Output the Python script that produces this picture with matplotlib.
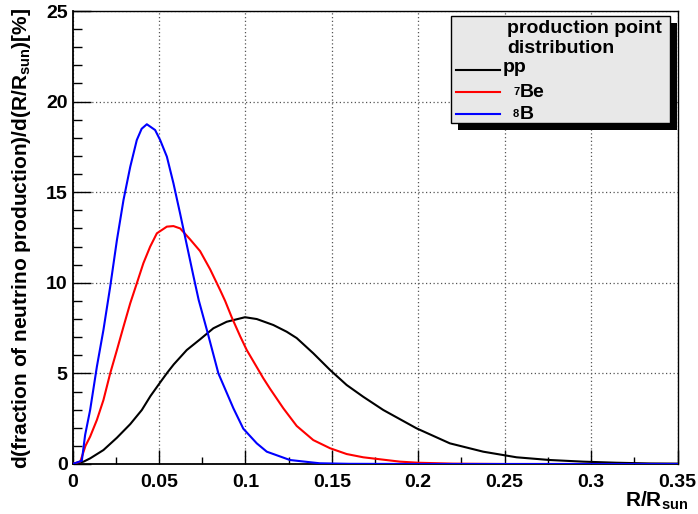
import matplotlib
matplotlib.use('Agg')
import matplotlib.pyplot as plt
from matplotlib.patches import Rectangle
from matplotlib.lines import Line2D
from matplotlib.ticker import MultipleLocator

plt.rcParams['font.family'] = ['Liberation Sans', 'DejaVu Sans']
plt.rcParams['font.weight'] = 'bold'
plt.rcParams['mathtext.fontset'] = 'custom'
plt.rcParams['mathtext.rm'] = 'Liberation Sans:bold'
plt.rcParams['mathtext.it'] = 'Liberation Sans:bold'
plt.rcParams['mathtext.bf'] = 'Liberation Sans:bold'

# ---------------- data ----------------
pp_x = [0, 0.0064, 0.0102, 0.0179, 0.0257, 0.0334, 0.0401, 0.0451, 0.0507, 0.0549,
        0.0586, 0.0661, 0.0738, 0.0815, 0.0892, 0.0998, 0.1066, 0.1162, 0.1239, 0.1297,
        0.1393, 0.149, 0.1586, 0.1682, 0.1798, 0.199, 0.2183, 0.2376, 0.2569, 0.2761,
        0.2954, 0.3147, 0.334, 0.35]
pp_y = [0, 0.13, 0.31, 0.77, 1.45, 2.2, 2.98, 3.75, 4.5, 5.05,
        5.5, 6.29, 6.88, 7.49, 7.85, 8.1, 8.0, 7.67, 7.3, 6.95,
        6.11, 5.19, 4.36, 3.71, 2.98, 1.97, 1.14, 0.68, 0.37, 0.22,
        0.13, 0.07, 0.03, 0.02]

be7_x = [0, 0.0045, 0.0075, 0.0102, 0.0141, 0.0179, 0.0218, 0.0257, 0.0295, 0.0334,
         0.0372, 0.041, 0.0449, 0.0488, 0.0546, 0.0584, 0.0623, 0.068, 0.0738, 0.0796,
         0.0854, 0.0883, 0.0921, 0.097, 0.1008, 0.1104, 0.1143, 0.122, 0.1297, 0.1393,
         0.149, 0.1586, 0.1682, 0.1779, 0.1894, 0.2, 0.22, 0.25, 0.35]
be7_y = [0, 0.13, 1.0, 1.51, 2.43, 3.53, 5.0, 6.29, 7.58, 8.87,
         9.97, 11.08, 11.99, 12.73, 13.1, 13.13, 13.0, 12.4, 11.75, 10.75,
         9.6, 9.0, 8.1, 7.05, 6.29, 4.73, 4.15, 3.07, 2.1, 1.32,
         0.87, 0.55, 0.37, 0.26, 0.13, 0.07, 0.02, 0, 0]

b8_x = [0, 0.0054, 0.0073, 0.0102, 0.0141, 0.0179, 0.0218, 0.0257, 0.0295, 0.0334,
        0.0372, 0.040, 0.043, 0.0478, 0.0507, 0.0546, 0.0584, 0.0623, 0.0661, 0.0699,
        0.073, 0.0781, 0.0844, 0.0931, 0.0988, 0.1066, 0.1124, 0.1258, 0.143,
        0.16, 0.2, 0.35]
b8_y = [0, 0.18, 1.6, 2.98, 5.37, 7.4, 9.78, 12.36, 14.57, 16.4,
        17.88, 18.5, 18.75, 18.43, 17.88, 16.96, 15.49, 13.8, 12.1, 10.4,
        9.05, 7.27, 5.0, 3.07, 1.95, 1.14, 0.68, 0.22, 0.04,
        0.01, 0, 0]

series_labels = ['pp', '7Be', '8B']
legend_title = ['production point', 'distribution']
xticks = [0, 0.05, 0.1, 0.15, 0.2, 0.25, 0.3, 0.35]
xticklabels = ['0', '0.05', '0.1', '0.15', '0.2', '0.25', '0.3', '0.35']
yticks = [0, 5, 10, 15, 20, 25]

# ---------------- figure ----------------
W, H = 698, 514
fig = plt.figure(figsize=(W / 100, H / 100), dpi=100)
L, R, T, B = 72.5, 677.5, 11, 464
ax = fig.add_axes([L / W, 1 - B / H, (R - L) / W, (B - T) / H])

def fx(px):
    return px / W

def fy(py):
    return 1 - py / H

ax.plot(pp_x, pp_y, color='black', lw=1.5, zorder=3)
ax.plot(be7_x, be7_y, color='#ff0000', lw=1.5, zorder=3)
ax.plot(b8_x, b8_y, color='#0000ff', lw=1.5, zorder=4)

ax.set_xlim(0, 0.35)
ax.set_ylim(0, 25)
ax.set_xticks(xticks)
ax.set_xticklabels(xticklabels)
ax.set_yticks(yticks)
ax.xaxis.set_minor_locator(MultipleLocator(0.025))
ax.yaxis.set_minor_locator(MultipleLocator(1))

ax.grid(True, which='major', color='#555555', lw=0.9, linestyle=(0, (1, 2)))
ax.set_axisbelow(True)

ax.tick_params(axis='x', which='major', direction='in', length=9.8, width=1,
               labelsize=14, pad=7, top=False)
ax.tick_params(axis='x', which='minor', direction='in', length=4.9, width=1, top=False)
ax.tick_params(axis='y', which='major', direction='in', length=13, width=1,
               labelsize=14, pad=3.5, right=False)
ax.tick_params(axis='y', which='minor', direction='in', length=6.5, width=1, right=False)
for lab in ax.get_xticklabels() + ax.get_yticklabels():
    lab.set_fontweight('bold')

for s in ['left', 'bottom']:
    ax.spines[s].set_linewidth(1.3)
for s in ['top', 'right']:
    ax.spines[s].set_linewidth(1.0)

# axis titles
fig.text(fx(22), fy(8), r'd(fraction of neutrino production)/d(R/R$_{sun}$)[%]',
         rotation=90, ha='center', va='top', fontsize=15, fontweight='bold')
fig.text(fx(688), fy(507), r'R/R$_{sun}$', ha='right', va='baseline',
         fontsize=15, fontweight='bold')

# legend (ROOT-style box with shadow)
fig.add_artist(Rectangle((fx(458), fy(130)), fx(677) - fx(458), fy(23) - fy(130),
                         transform=fig.transFigure, facecolor='black',
                         edgecolor='none', zorder=5))
fig.add_artist(Rectangle((fx(451), fy(123)), fx(670) - fx(451), fy(16) - fy(123),
                         transform=fig.transFigure, facecolor='#e8e8e8',
                         edgecolor='black', lw=1, zorder=6))
fig.text(fx(507), fy(33), legend_title[0], fontsize=14, fontweight='bold',
         va='baseline', ha='left', zorder=7)
fig.text(fx(507), fy(53), legend_title[1], fontsize=14, fontweight='bold',
         va='baseline', ha='left', zorder=7)
for ypix, col in [(70, 'black'), (92, '#ff0000'), (114, '#0000ff')]:
    fig.add_artist(Line2D([fx(456), fx(500)], [fy(ypix), fy(ypix)],
                          transform=fig.transFigure, color=col, lw=1.5, zorder=7))
fig.text(fx(503), fy(72), series_labels[0], fontsize=14, fontweight='bold',
         va='baseline', ha='left', zorder=7)
fig.text(fx(513), fy(95), series_labels[1][0], fontsize=8, fontweight='bold',
         va='baseline', ha='left', zorder=7)
fig.text(fx(520), fy(97), series_labels[1][1:], fontsize=14, fontweight='bold',
         va='baseline', ha='left', zorder=7)
fig.text(fx(513), fy(117), series_labels[2][0], fontsize=8, fontweight='bold',
         va='baseline', ha='left', zorder=7)
fig.text(fx(520), fy(119), series_labels[2][1:], fontsize=14, fontweight='bold',
         va='baseline', ha='left', zorder=7)

fig.savefig('out.png', dpi=100)
